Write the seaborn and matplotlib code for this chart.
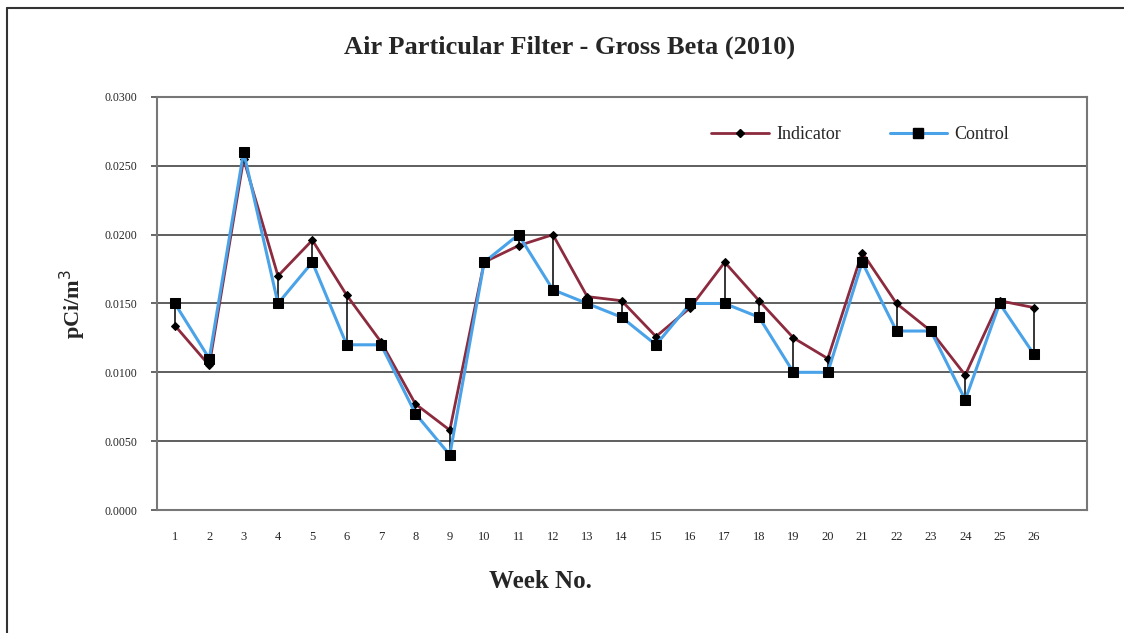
import numpy as np
import pandas as pd
import seaborn as sns
import matplotlib.pyplot as plt
from matplotlib.lines import Line2D
from matplotlib.ticker import FormatStrFormatter

# data
weeks = list(range(1, 27))
indicator = [0.0134, 0.0105, 0.0255, 0.0170, 0.0196, 0.0156, 0.0122, 0.0077, 0.0058, 0.0180,
             0.0192, 0.0200, 0.0155, 0.0152, 0.0126, 0.0147, 0.0180, 0.0152, 0.0125, 0.0110,
             0.0187, 0.0150, 0.0130, 0.0098, 0.0152, 0.0147]
control = [0.0150, 0.0110, 0.0260, 0.0150, 0.0180, 0.0120, 0.0120, 0.0070, 0.0040, 0.0180,
           0.0200, 0.0160, 0.0150, 0.0140, 0.0120, 0.0150, 0.0150, 0.0140, 0.0100, 0.0100,
           0.0180, 0.0130, 0.0130, 0.0080, 0.0150, 0.0113]

df = pd.DataFrame({'week': weeks, 'Indicator': indicator, 'Control': control})

sns.set_theme(style='white')
plt.rcParams['font.family'] = ['Liberation Serif', 'DejaVu Serif']

fig = plt.figure(figsize=(11.24, 6.33), dpi=100)
ax = fig.add_axes([0.1397, 0.1943, 0.8273, 0.6525])

red = '#8c2a3e'
blue = '#4aa3e8'

# hi-lo drop lines between the two series
ax.vlines(df['week'], df[['Indicator', 'Control']].min(axis=1),
          df[['Indicator', 'Control']].max(axis=1), color='black', lw=1.1, zorder=2)

sns.lineplot(data=df, x='week', y='Indicator', ax=ax, color=red, lw=2,
             marker='D', markersize=4.5, markerfacecolor='black', markeredgecolor='black', zorder=3)
sns.lineplot(data=df, x='week', y='Control', ax=ax, color=blue, lw=2.2,
             marker='s', markersize=7, markerfacecolor='black', markeredgecolor='black', zorder=4)

ax.set_xlim(0.48, 27.54)
ax.set_ylim(0, 0.030)
ax.set_yticks(np.arange(0, 0.0301, 0.005))
ax.yaxis.set_major_formatter(FormatStrFormatter('%.4f'))
ax.set_xticks(weeks)
ax.set_xticklabels([str(w) for w in weeks])
ax.tick_params(axis='x', length=0, labelsize=9, pad=15)
ax.tick_params(axis='y', length=4, labelsize=8.5, left=True, color='#555555', pad=10)
ax.grid(axis='y', color='#333333', lw=1.1)
ax.set_axisbelow(True)
for s in ax.spines.values():
    s.set_color('#777777')
    s.set_linewidth(1.5)

ax.set_xlabel('Week No.', fontsize=18, fontweight='bold')
ax.xaxis.set_label_coords(0.412, -0.145)
ax.set_ylabel('pCi/m$^3$', fontsize=16, fontweight='bold', labelpad=12)
fig.text(0.507, 0.926, 'Air Particular Filter - Gross Beta (2010)', ha='center', va='center',
         fontsize=19, fontweight='bold')

handles = [Line2D([], [], color=red, lw=2, marker='D', markersize=4.5,
                  markerfacecolor='black', markeredgecolor='black'),
           Line2D([], [], color=blue, lw=2.2, marker='s', markersize=7,
                  markerfacecolor='black', markeredgecolor='black')]
ax.legend(handles, ['Indicator', 'Control'], loc='center right', bbox_to_anchor=(0.934, 0.908),
          ncol=2, frameon=False, fontsize=13, handlelength=3.2, handletextpad=0.4,
          columnspacing=2.7)

# outer frame of the chart area
fig.add_artist(Line2D([0.0062, 0.0062], [0, 0.987], color='#333333', lw=1.5, transform=fig.transFigure))
fig.add_artist(Line2D([0.0062, 1], [0.987, 0.987], color='#333333', lw=1.5, transform=fig.transFigure))

fig.savefig('out.png', dpi=100)
